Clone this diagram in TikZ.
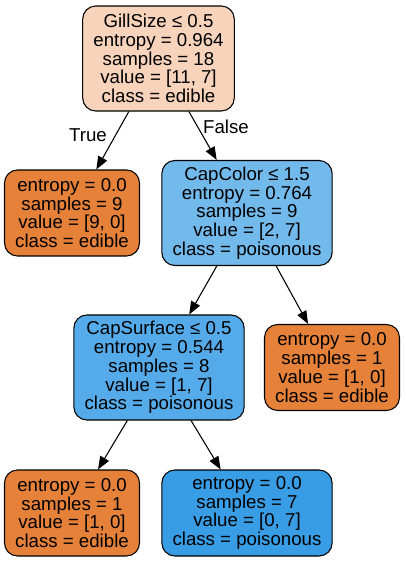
\documentclass[tikz,border=0pt]{standalone}
\usepackage{fontspec}
\setmainfont{Liberation Sans}
\usepackage{xcolor}
\usepackage{tikz}
\definecolor{edibleorange}{RGB}{229,129,57}
\definecolor{rootpeach}{RGB}{246,211,186}
\definecolor{capcolorblue}{RGB}{114,185,236}
\definecolor{capsurfblue}{RGB}{85,171,233}
\definecolor{poisonblue}{RGB}{57,157,229}
\usetikzlibrary{arrows.meta, positioning}

\begin{document}
\begin{tikzpicture}[
    x=0.75pt, y=-0.75pt,
    tnode/.style={rectangle, rounded corners=9.75pt, draw=black, line width=0.8pt,
                  align=center, inner xsep=8pt, inner ysep=0pt,
                  font=\fontsize{14}{14.1}\selectfont},
    splitnode/.style={tnode, minimum height=78.75pt},
    leafnode/.style={tnode, minimum height=64.5pt},
    branch/.style={-{Triangle[length=9.75pt, width=7.5pt]}, line width=0.8pt},
    lbl/.style={font=\fontsize{14}{14.1}\selectfont, inner sep=0pt}
]
    \useasboundingbox (0,0) rectangle (405,563);

    \node[splitnode, fill=rootpeach] (gillsize) at (158.5,58.5) {GillSize ≤ 0.5\\entropy = 0.964\\samples = 18\\value = [11, 7]\\class = edible};
    \node[leafnode, fill=edibleorange] (leafa) at (72,213) {entropy = 0.0\\samples = 9\\value = [9, 0]\\class = edible};
    \node[splitnode, fill=capcolorblue] (capcolor) at (247,213) {CapColor ≤ 1.5\\entropy = 0.764\\samples = 9\\value = [2, 7]\\class = poisonous};
    \node[splitnode, fill=capsurfblue] (capsurface) at (159,367.5) {CapSurface ≤ 0.5\\entropy = 0.544\\samples = 8\\value = [1, 7]\\class = poisonous};
    \node[leafnode, fill=edibleorange] (leafb) at (332,367.5) {entropy = 0.0\\samples = 1\\value = [1, 0]\\class = edible};
    \node[leafnode, fill=edibleorange] (leafc) at (72,513) {entropy = 0.0\\samples = 1\\value = [1, 0]\\class = edible};
    \node[leafnode, fill=poisonblue] (leafd) at (247,513) {entropy = 0.0\\samples = 7\\value = [0, 7]\\class = poisonous};

    % Edges
    \draw[branch] (gillsize) -- (leafa);
    \draw[branch] (gillsize) -- (capcolor);
    \draw[branch] (capcolor) -- (capsurface);
    \draw[branch] (capcolor) -- (leafb);
    \draw[branch] (capsurface) -- (leafc);
    \draw[branch] (capsurface) -- (leafd);

    \node[lbl] (truelbl) at (88,135) {True};
    \node[lbl] (falselbl) at (226,127) {False};
\end{tikzpicture}
\end{document}
